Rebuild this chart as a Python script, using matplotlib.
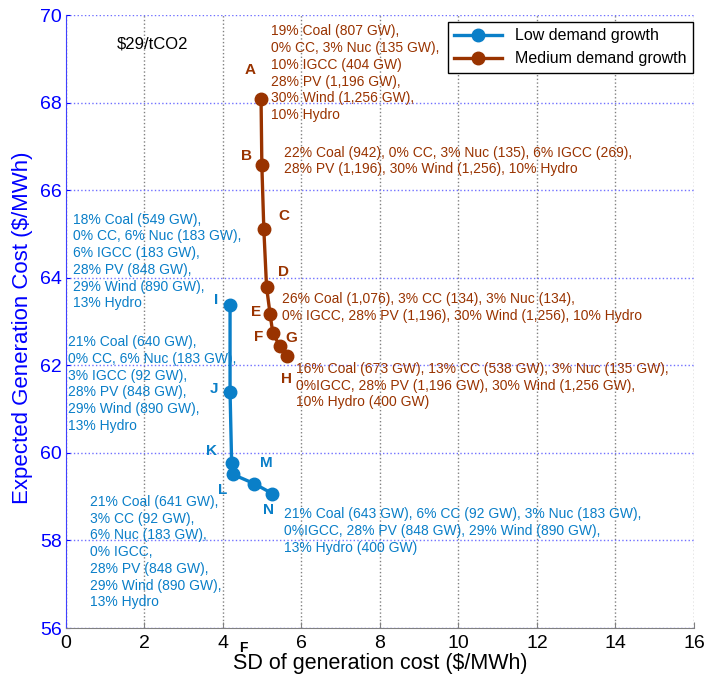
import matplotlib.pyplot as plt
import numpy as np

plt.rcParams['font.family'] = ['Liberation Sans', 'DejaVu Sans']

# Data
low_labels = ['I', 'J', 'K', 'L', 'M', 'N']
low_sd = [4.18, 4.18, 4.22, 4.25, 4.79, 5.26]
low_cost = [63.37, 61.39, 59.78, 59.51, 59.30, 59.07]

med_labels = ['A', 'B', 'C', 'D', 'E', 'F', 'G', 'H']
med_sd = [4.97, 4.99, 5.04, 5.11, 5.20, 5.27, 5.45, 5.64]
med_cost = [68.08, 66.57, 65.12, 63.79, 63.17, 62.73, 62.44, 62.21]

# Where the letter of each point sits
low_lab_x = [3.82, 3.77, 3.71, 3.99, 5.11, 5.15]
low_lab_y = [63.49, 61.47, 60.04, 59.16, 59.77, 58.69]
med_lab_x = [4.69, 4.61, 5.55, 5.55, 4.85, 4.91, 5.73, 5.62]
med_lab_y = [68.74, 66.79, 65.41, 64.13, 63.21, 62.65, 62.62, 61.68]

# Portfolio descriptions
med_notes = [
    (5.22, 69.79, "19% Coal (807 GW),\n0% CC, 3% Nuc (135 GW),\n10% IGCC (404 GW)\n28% PV (1,196 GW),\n30% Wind (1,256 GW),\n10% Hydro"),
    (5.55, 67.02, "22% Coal (942), 0% CC, 3% Nuc (135), 6% IGCC (269),\n28% PV (1,196), 30% Wind (1,256), 10% Hydro"),
    (5.50, 63.67, "26% Coal (1,076), 3% CC (134), 3% Nuc (134),\n0% IGCC, 28% PV (1,196), 30% Wind (1,256), 10% Hydro"),
    (5.86, 62.08, "16% Coal (673 GW), 13% CC (538 GW), 3% Nuc (135 GW),\n0%IGCC, 28% PV (1,196 GW), 30% Wind (1,256 GW),\n10% Hydro (400 GW)"),
]
low_notes = [
    (0.19, 65.49, "18% Coal (549 GW),\n0% CC, 6% Nuc (183 GW),\n6% IGCC (183 GW),\n28% PV (848 GW),\n29% Wind (890 GW),\n13% Hydro"),
    (0.06, 62.69, "21% Coal (640 GW),\n0% CC, 6% Nuc (183 GW),\n3% IGCC (92 GW),\n28% PV (848 GW),\n29% Wind (890 GW),\n13% Hydro"),
    (0.61, 59.04, "21% Coal (641 GW),\n3% CC (92 GW),\n6% Nuc (183 GW),\n0% IGCC,\n28% PV (848 GW),\n29% Wind (890 GW),\n13% Hydro"),
    (5.55, 58.76, "21% Coal (643 GW), 6% CC (92 GW), 3% Nuc (183 GW),\n0%IGCC, 28% PV (848 GW), 29% Wind (890 GW),\n13% Hydro (400 GW)"),
]

blue = '#0a7fc8'
brown = '#993300'

fig = plt.figure(figsize=(7.04, 6.86), dpi=100)
ax = fig.add_axes([0.09375, 0.0845, 0.892, 0.8935])

ax.plot(low_sd, low_cost, '-o', color=blue, lw=2.4, ms=9, label='Low demand growth', zorder=3)
ax.plot(med_sd, med_cost, '-o', color=brown, lw=2.4, ms=9, label='Medium demand growth', zorder=3)

for lab, x, y in zip(low_labels, low_lab_x, low_lab_y):
    ax.text(x, y, lab, color=blue, fontsize=11, weight='bold', ha='center', va='center')
for lab, x, y in zip(med_labels, med_lab_x, med_lab_y):
    ax.text(x, y, lab, color=brown, fontsize=11, weight='bold', ha='center', va='center')

for x, y, s in med_notes:
    ax.text(x, y, s, color=brown, fontsize=10, ha='left', va='top', linespacing=1.25)
for x, y, s in low_notes:
    ax.text(x, y, s, color=blue, fontsize=10, ha='left', va='top', linespacing=1.25)

ax.text(2.2, 69.35, '$29/tCO2', fontsize=12, ha='center', va='center')
# stray label under the x axis
ax.text(4.51, 55.55, 'F', fontsize=10, weight='bold', ha='center', va='center', clip_on=False)

ax.set_xlim(0, 16)
ax.set_ylim(56, 70)
ax.set_xticks(np.arange(0, 17, 2))
ax.set_yticks(np.arange(56, 71, 2))

ax.xaxis.grid(True, linestyle=':', color='#808080', lw=1)
ax.yaxis.grid(True, linestyle=':', color='#7070ff', lw=1)
ax.set_axisbelow(True)

ax.spines['top'].set_visible(False)
ax.spines['right'].set_visible(False)
ax.spines['left'].set_color('#4040ff')
ax.spines['bottom'].set_color('#808080')
ax.tick_params(axis='y', colors='#0000ff', labelsize=14, direction='in', length=3, pad=3)
ax.tick_params(axis='x', labelsize=14, direction='in', length=4, color='#808080', pad=5)

ax.set_xlabel('SD of generation cost ($/MWh)', fontsize=15.5)
ax.set_ylabel('Expected Generation Cost ($/MWh)', fontsize=16, color='#0000ff')
ax.xaxis.set_label_coords(0.5, -0.041)
ax.yaxis.set_label_coords(-0.053, 0.49)

leg = ax.legend(loc='upper right', bbox_to_anchor=(0.998, 0.989), fontsize=11.5,
                fancybox=False, edgecolor='black', framealpha=1, borderaxespad=0,
                handlelength=3)
leg.get_frame().set_linewidth(1)

plt.savefig('out.png', dpi=100)
